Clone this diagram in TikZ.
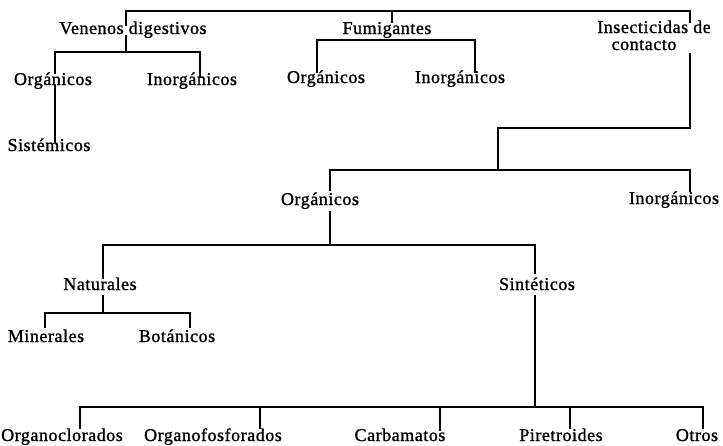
\documentclass[tikz,border=0pt]{standalone}
\usepackage{fontspec}
\setmainfont{Liberation Serif}[LetterSpace=3, FakeBold=1.2]
\begin{document}
\begin{tikzpicture}[x=1pt,y=-1pt,
  lbl/.style={anchor=base, inner sep=0pt, font=\fontsize{18}{20}\selectfont},
  link/.style={line width=1.5pt, line cap=rect}]
\useasboundingbox[fill=white] (0,0) rectangle (723,445);

% labels
\node[lbl] (ven)    at (133,34)  {Venenos digestivos};
\node[lbl] (org1)   at (53,85)   {Orgánicos};
\node[lbl] (inorg1) at (192,85)  {Inorgánicos};
\node[lbl] (sist)   at (49,151)  {Sistémicos};
\node[lbl] (fum)    at (387,34)  {Fumigantes};
\node[lbl] (org2)   at (326,83)  {Orgánicos};
\node[lbl] (inorg2) at (460,83)  {Inorgánicos};
\node[lbl] (ins)    at (654,33)  {Insecticidas de};
\node[lbl] (cont)   at (644,50)  {contacto};
\node[lbl] (orgm)   at (320,205) {Orgánicos};
\node[lbl] (inorgm) at (674,204) {Inorgánicos};
\node[lbl] (nat)    at (100,290) {Naturales};
\node[lbl] (sint)   at (537,290) {Sintéticos};
\node[lbl] (min)    at (46,342)  {Minerales};
\node[lbl] (bot)    at (177,342) {Botánicos};
\node[lbl] (oc)     at (62,441)  {Organoclorados};
\node[lbl] (of)     at (213,441) {Organofosforados};
\node[lbl] (carb)   at (400,441) {Carbamatos};
\node[lbl] (pir)    at (561,441) {Piretroides};
\node[lbl] (otr)    at (697,441) {Otros};

% branch points
\coordinate (bar)  at (0,11);
\coordinate (tA)   at (126,25);
\coordinate (tB)   at (392,22);
\coordinate (tC)   at (690,22);
\coordinate (v0)   at (126,36);
\coordinate (v1)   at (126,52);
\coordinate (vO)   at (55,73);
\coordinate (vI)   at (200,76);
\coordinate (s0)   at (55,86);
\coordinate (s1)   at (55,142);
\coordinate (fO)   at (317,72);
\coordinate (fJ)   at (475,40);
\coordinate (fI)   at (475,72);
\coordinate (c0)   at (690,54);
\coordinate (c1)   at (498,128);
\coordinate (c2)   at (498,170);
\coordinate (cO)   at (330,190);
\coordinate (cJ)   at (690,170);
\coordinate (cI)   at (690,191);
\coordinate (o0)   at (330,212);
\coordinate (o1)   at (330,245);
\coordinate (oN)   at (103,278);
\coordinate (oJ)   at (535,245);
\coordinate (oS)   at (535,273);
\coordinate (n0)   at (103,296);
\coordinate (n1)   at (103,313);
\coordinate (nM)   at (45,327);
\coordinate (nJ)   at (190,313);
\coordinate (nB)   at (190,327);
\coordinate (k0)   at (535,296);
\coordinate (k1)   at (535,407);
\coordinate (kA)   at (80,428);
\coordinate (kE)   at (703,407);
\coordinate (kEe)  at (703,428);
\coordinate (kB)   at (260,428);
\coordinate (kC)   at (440,430);
\coordinate (kD)   at (570,428);

% top level
\draw[link] (tA) -- (tA |- bar) -- (tC |- bar) -- (tC);
\draw[link] (tB) -- (tB |- bar);

% Venenos digestivos
\draw[link] (v0) -- (v1);
\draw[link] (vO) |- (v1) -| (vI);
\draw[link] (s0) -- (s1);

% Fumigantes
\draw[link] (fO) |- (fJ) -- (fI);

% Insecticidas de contacto
\draw[link] (c0) |- (c1) -- (c2);
\draw[link] (cO) |- (cJ) -- (cI);

% Orgánicos
\draw[link] (o0) -- (o1);
\draw[link] (oN) |- (oJ) -- (oS);

% Naturales
\draw[link] (n0) -- (n1);
\draw[link] (nM) |- (nJ) -- (nB);

% Sintéticos
\draw[link] (k0) -- (k1);
\draw[link] (kA) |- (kE) -- (kEe);
\draw[link] (kB) -- (kB |- kE);
\draw[link] (kC) -- (kC |- kE);
\draw[link] (kD) -- (kD |- kE);
\end{tikzpicture}
\end{document}
